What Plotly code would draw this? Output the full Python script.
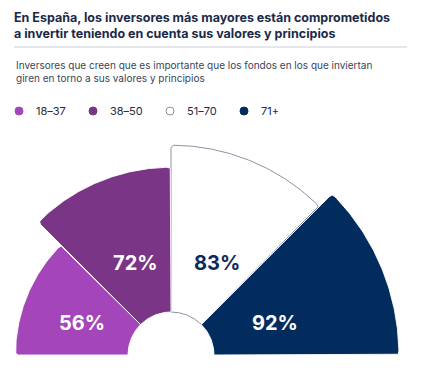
import numpy as np
import plotly.graph_objects as go

# ---------------- data ----------------
groups = ["18–37", "38–50", "51–70", "71+"]
values = [56, 72, 83, 92]
value_labels = ["56%", "72%", "83%", "92%"]

# ---------------- style ----------------
colors = ["#A446BA", "#7A3587", "#FFFFFF", "#022B5E"]
edge_colors = ["#FFFFFF", "#FFFFFF", "#7E8797", "#FFFFFF"]
text_colors = ["#FFFFFF", "#FFFFFF", "#0B2A5A", "#FFFFFF"]
label_shift = [(3, -6), (3, 0), (8, 0), (12, -6)]  # pixel nudges of value labels

OFF = 8                        # the page's default body margin
W, H = 424 - OFF, 375 - OFF    # visible figure size
CX, CY = 171 - OFF, 355 - OFF  # pixel position of semicircle centre
PX = 2.01                      # pixels per percentage point
HOLE = 43 / PX                 # inner (hole) radius in value units
CORNER = 2.0                   # corner rounding in value units
LABEL_R = 100 / PX             # radius of value labels in value units
LEGEND_X = [19, 93, 170, 244]  # legend marker x (page px)
LEGEND_Y = 111                 # legend marker y (page px)
FONT = "Inter"
NAVY = "#1B2A48"

x_range = [-CX / PX, (W - CX) / PX]
y_range = [-(H - CY) / PX, CY / PX]


def wedge(r_in, r_out, a0, a1, c=CORNER, n=80):
    t0, t1 = np.radians(a0), np.radians(a1)
    dt = c / r_out
    xs, ys = [], []

    def pol(r, t):
        return np.array([r * np.cos(t), r * np.sin(t)])

    def add(p):
        xs.append(p[0]); ys.append(p[1])

    def bez(p0, p1, p2, m=8):
        for s in np.linspace(0, 1, m):
            add((1 - s) ** 2 * p0 + 2 * (1 - s) * s * p1 + s ** 2 * p2)

    add(pol(r_in, t0))
    bez(pol(r_out - c, t0), pol(r_out, t0), pol(r_out, t0 + dt))
    for t in np.linspace(t0 + dt, t1 - dt, n):
        add(pol(r_out, t))
    bez(pol(r_out, t1 - dt), pol(r_out, t1), pol(r_out - c, t1))
    for t in np.linspace(t1, t0, 40):
        add(pol(r_in, t))
    return xs, ys


fig = go.Figure()
n = len(values)
step = 180 / n
for i in [2, 0, 1, 3]:
    a1 = 180 - step * i
    a0 = a1 - step
    xs, ys = wedge(HOLE, HOLE + values[i], a0, a1)
    fig.add_trace(go.Scatter(
        x=xs, y=ys, mode="lines", fill="toself", fillcolor=colors[i],
        line=dict(color=edge_colors[i], width=0.9),
        hoveron="fills", name=groups[i], text=f"{groups[i]}: {value_labels[i]}",
        hoverinfo="text", showlegend=False))

for i in range(n):
    mid = np.radians(180 - step * (i + 0.5))
    fig.add_annotation(
        x=LABEL_R * np.cos(mid), y=LABEL_R * np.sin(mid),
        text=f"<b>{value_labels[i]}</b>", showarrow=False,
        xshift=label_shift[i][0], yshift=label_shift[i][1],
        font=dict(family=FONT, size=20, color=text_colors[i]))

# legend (marker dots + labels)
ly = 1 - (LEGEND_Y - OFF) / H
for i in range(n):
    lx = (LEGEND_X[i] - OFF) / W
    fig.add_shape(
        type="circle", xref="paper", yref="paper", xsizemode="pixel", ysizemode="pixel",
        xanchor=lx, yanchor=ly, x0=-4, x1=4, y0=-4, y1=4,
        fillcolor=colors[i],
        line=dict(color="#8B93A1" if colors[i] == "#FFFFFF" else colors[i], width=1))
    fig.add_annotation(
        xref="paper", yref="paper", x=lx, y=ly, xshift=15, xanchor="left", yanchor="middle",
        text=groups[i], showarrow=False,
        font=dict(family=FONT, size=11, color=NAVY))

fig.add_annotation(
    xref="paper", yref="paper", x=6 / W, y=1 - 49 / H, xanchor="left", yanchor="top",
    align="left", showarrow=False,
    text="Inversores que creen que es importante que los fondos en los que inviertan<br>giren en torno a sus valores y principios",
    font=dict(family=FONT, size=10, color="#3A4457"))

fig.add_shape(type="line", xref="paper", yref="paper", x0=6 / W, x1=399 / W,
              y0=1 - 39 / H, y1=1 - 39 / H, line=dict(color="#C9CED6", width=1))

fig.update_layout(
    width=W, height=H,
    margin=dict(l=0, r=0, t=0, b=0),
    paper_bgcolor="#FFFFFF", plot_bgcolor="#FFFFFF",
    title=dict(
        text="<b>En España, los inversores más mayores están comprometidos<br>a invertir teniendo en cuenta sus valores y principios</b>",
        x=6 / W, xanchor="left", xref="paper", y=1 - 13.5 / H, yanchor="top", yref="container",
        font=dict(family=FONT, size=12.5, color=NAVY)),
    xaxis=dict(range=x_range, visible=False, fixedrange=True),
    yaxis=dict(range=y_range, visible=False, fixedrange=True),
    showlegend=False,
)

fig.write_html("out.html")
